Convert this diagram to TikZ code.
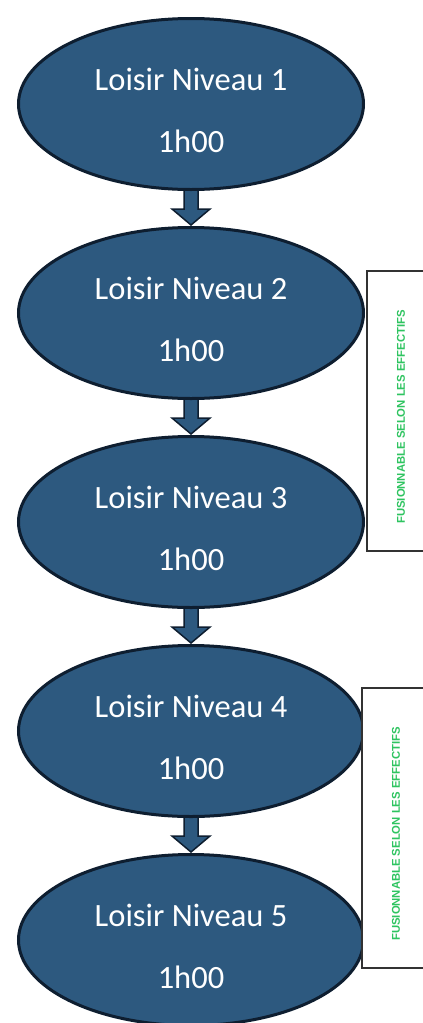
\documentclass[tikz,border=0pt]{standalone}
\usepackage{fontspec}
\setmainfont{Carlito}
\newfontfamily\notefont{Liberation Sans}
\usetikzlibrary{shapes.geometric,calc,backgrounds}
\definecolor{levelblue}{RGB}{45,89,127}
\definecolor{leveledge}{RGB}{14,30,48}
\definecolor{notegreen}{RGB}{46,196,96}
\definecolor{boxedge}{RGB}{50,50,50}
\tikzset{
  levelnode/.style={ellipse, draw=leveledge, fill=levelblue, line width=3pt,
    minimum width=345pt, minimum height=171pt, inner sep=0pt},
  leveltext/.style={text=white, font=\fontsize{32.5}{38}\selectfont, anchor=base, inner sep=0pt},
  blockarrow/.style={fill=levelblue, draw=leveledge, line width=1.5pt, line join=miter},
  mergebox/.style={draw=boxedge, fill=white, line width=1.2pt},
  mergenote/.style={text=notegreen, font=\notefont\bfseries\fontsize{11.3}{13}\selectfont,
    rotate=90, inner sep=0pt}
}
\begin{document}
\begin{tikzpicture}[x=1pt,y=-1pt]
\path[use as bounding box, clip] (0,0) rectangle (423,1023);
% levels
\foreach \n/\y in {1/104,2/313,3/522,4/731,5/940}{
  \node[levelnode] (e\n) at (191,\y) {};
  \node[leveltext] (t\n) at ($(e\n.center)+(0,-14)$) {Loisir Niveau \n};
  \node[leveltext] (h\n) at ($(e\n.center)+(0,48)$) {1h00};
}
% arrows between levels
\begin{scope}[on background layer]
  \fill[white] (0,0) rectangle (423,1023);
  \foreach \a/\b in {1/2,2/3,3/4,4/5}{
    \draw[blockarrow] ($(e\a.south)+(-7,-4)$) -- ($(e\a.south)+(-7,18)$)
      -- ($(e\a.south)+(-19,18)$) -- ($(e\b.north)+(0,-1)$)
      -- ($(e\a.south)+(19,18)$) -- ($(e\a.south)+(7,18)$)
      -- ($(e\a.south)+(7,-4)$) -- cycle;
  }
\end{scope}
% merge notes
\draw[mergebox] (367,271) rectangle (440,551);
\node[mergenote] (m1) at (401,417) {FUSIONNABLE SELON LES EFFECTIFS};
\draw[mergebox] (362,688) rectangle (440,968);
\node[mergenote] (m2) at (396,834) {FUSIONNABLE SELON LES EFFECTIFS};
\end{tikzpicture}
\end{document}
